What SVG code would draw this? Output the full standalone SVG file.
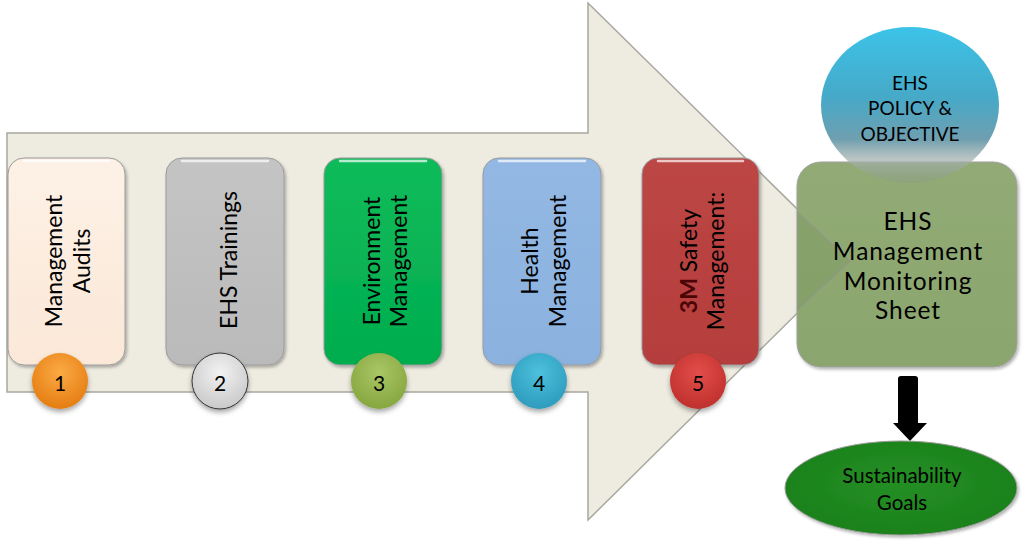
<svg xmlns="http://www.w3.org/2000/svg" width="1024" height="543" viewBox="0 0 1024 543">
<defs>
<style>
.t{font-family:Lato,"Open Sans","DejaVu Sans",sans-serif;fill:#000;}
.vt{font-size:23px;text-anchor:middle;dominant-baseline:central;}
.num{font-size:21px;text-anchor:middle;dominant-baseline:central;}
.mid{text-anchor:middle;dominant-baseline:central;}
.box{stroke:#9a9a9a;stroke-width:1;filter:url(#sh);}
.hl{fill:none;stroke:#fff;stroke-opacity:0.7;stroke-width:2.5;stroke-linecap:round;}
</style>
<filter id="sh" x="-20%" y="-20%" width="140%" height="140%">
<feDropShadow dx="1.5" dy="2" stdDeviation="1.5" flood-color="#000" flood-opacity="0.3"/>
</filter>
<filter id="csh" x="-30%" y="-30%" width="160%" height="170%">
<feDropShadow dx="0" dy="3" stdDeviation="2.5" flood-color="#000" flood-opacity="0.35"/>
</filter>
<linearGradient id="g1" x1="0" y1="0" x2="0" y2="1"><stop offset="0" stop-color="#fdf1e6"/><stop offset="1" stop-color="#fbe8d8"/></linearGradient>
<linearGradient id="g2" x1="0" y1="0" x2="0" y2="1"><stop offset="0" stop-color="#c4c4c4"/><stop offset="1" stop-color="#bababa"/></linearGradient>
<linearGradient id="g3" x1="0" y1="0" x2="0" y2="1"><stop offset="0" stop-color="#10bb5a"/><stop offset="1" stop-color="#00ad4e"/></linearGradient>
<linearGradient id="g4" x1="0" y1="0" x2="0" y2="1"><stop offset="0" stop-color="#93b8e4"/><stop offset="1" stop-color="#8bb1de"/></linearGradient>
<linearGradient id="g5" x1="0" y1="0" x2="0" y2="1"><stop offset="0" stop-color="#bc4644"/><stop offset="1" stop-color="#b53e3c"/></linearGradient>
<radialGradient id="c1" cx="0.5" cy="0.35" r="0.65"><stop offset="0" stop-color="#fbaa45"/><stop offset="1" stop-color="#e57d12"/></radialGradient>
<radialGradient id="c2" cx="0.5" cy="0.35" r="0.65"><stop offset="0" stop-color="#f2f2f2"/><stop offset="1" stop-color="#c9c9c9"/></radialGradient>
<radialGradient id="c3" cx="0.5" cy="0.35" r="0.65"><stop offset="0" stop-color="#a9c766"/><stop offset="1" stop-color="#86a63f"/></radialGradient>
<radialGradient id="c4" cx="0.5" cy="0.35" r="0.65"><stop offset="0" stop-color="#4cc1dd"/><stop offset="1" stop-color="#2e9bbd"/></radialGradient>
<radialGradient id="c5" cx="0.5" cy="0.35" r="0.65"><stop offset="0" stop-color="#e24e4a"/><stop offset="1" stop-color="#bf302d"/></radialGradient>
<linearGradient id="gb" x1="0" y1="0" x2="0" y2="1"><stop offset="0" stop-color="#3cc3e8"/><stop offset="0.45" stop-color="#46a9c8"/><stop offset="0.72" stop-color="#6f9fb0"/><stop offset="0.85" stop-color="#a5b2b0" stop-opacity="0.75"/><stop offset="1" stop-color="#8a9a80" stop-opacity="0.5"/></linearGradient>
<linearGradient id="gg" x1="0" y1="0" x2="0" y2="1"><stop offset="0" stop-color="#92ab76"/><stop offset="1" stop-color="#8ba56e"/></linearGradient>
<radialGradient id="ge" cx="0.5" cy="0.45" r="0.6"><stop offset="0" stop-color="#248f24"/><stop offset="1" stop-color="#1b801b"/></radialGradient>
</defs>

<g id="big-arrow">
<polygon points="7,133 588,133 588,3 850,261 588,520 588,392 7,392" fill="#eeece1" stroke="#a8a8a0" stroke-width="1.5"/>
</g>

<g id="node-1">
<rect class="box" x="8" y="158" width="117" height="207" rx="16" fill="url(#g1)"/>
<path class="hl" d="M24,161 H109"/>
<text class="t vt" transform="translate(53,261) rotate(-90)">Management</text>
<text class="t vt" transform="translate(81,261) rotate(-90)">Audits</text>
</g>
<g id="node-2">
<rect class="box" x="166" y="158" width="118" height="207" rx="16" fill="url(#g2)"/>
<path class="hl" d="M182,161 H268"/>
<text class="t vt" transform="translate(228,260) rotate(-90)">EHS Trainings</text>
</g>
<g id="node-3">
<rect class="box" x="324" y="158" width="118" height="207" rx="16" fill="url(#g3)"/>
<path class="hl" d="M340,161 H426" stroke-opacity="0.4"/>
<text class="t vt" transform="translate(371,261) rotate(-90)">Environment</text>
<text class="t vt" transform="translate(398,261) rotate(-90)">Management</text>
</g>
<g id="node-4">
<rect class="box" x="483" y="158" width="118" height="207" rx="16" fill="url(#g4)"/>
<path class="hl" d="M499,161 H585"/>
<text class="t vt" transform="translate(529,261) rotate(-90)">Health</text>
<text class="t vt" transform="translate(557,261) rotate(-90)">Management</text>
</g>
<g id="node-5">
<rect class="box" x="642" y="158" width="117" height="207" rx="16" fill="url(#g5)"/>
<path class="hl" d="M658,161 H743" stroke-opacity="0.35"/>
<text class="t vt" transform="translate(688,261) rotate(-90)"><tspan font-weight="bold" fill="#4a0606">3M</tspan> Safety</text>
<text class="t vt" transform="translate(715,261) rotate(-90)">Management:</text>
</g>

<g id="badge-1"><circle cx="60" cy="381" r="28" fill="url(#c1)" filter="url(#csh)"/><text class="t num" x="60" y="382">1</text></g>
<g id="badge-2"><circle cx="220" cy="381" r="28" fill="url(#c2)" stroke="#333" stroke-width="1" filter="url(#csh)"/><text class="t num" x="220" y="382">2</text></g>
<g id="badge-3"><circle cx="379" cy="381" r="28" fill="url(#c3)" filter="url(#csh)"/><text class="t num" x="379" y="382">3</text></g>
<g id="badge-4"><circle cx="539" cy="381" r="28" fill="url(#c4)" filter="url(#csh)"/><text class="t num" x="539" y="382">4</text></g>
<g id="badge-5"><circle cx="698" cy="381" r="28" fill="url(#c5)" filter="url(#csh)"/><text class="t num" x="698" y="382">5</text></g>

<g id="monitoring-sheet">
<rect x="797" y="162" width="220" height="205" rx="24" fill="url(#gg)" stroke="#a0a0a0" stroke-width="1" filter="url(#sh)"/>
<path d="M797,212 L850,261 L797,310" fill="#6f8a55" fill-opacity="0.25" stroke="#8f9a80" stroke-width="1.5"/>
<text class="t mid" font-size="24.5px" letter-spacing="0.9" x="908" y="220">EHS</text>
<text class="t mid" font-size="24.5px" letter-spacing="0.9" x="908" y="250">Management</text>
<text class="t mid" font-size="24.5px" letter-spacing="0.9" x="908" y="280">Monitoring</text>
<text class="t mid" font-size="24.5px" letter-spacing="0.9" x="908" y="309">Sheet</text>
</g>

<g id="policy">
<ellipse cx="910" cy="105" rx="89" ry="78" fill="url(#gb)"/>
<text class="t mid" font-size="19px" x="910" y="82" fill="#1a1a1a">EHS</text>
<text class="t mid" font-size="19px" x="910" y="107" fill="#1a1a1a">POLICY &amp;</text>
<text class="t mid" font-size="19px" x="910" y="133" fill="#1a1a1a">OBJECTIVE</text>
</g>

<g id="connectors">
<path d="M901,376 H915 Q918,376 918,379 V423 H927 L910,441 L893,423 H898 V379 Q898,376 901,376 Z" fill="#000"/>
</g>

<g id="goals">
<ellipse cx="901" cy="488" rx="116" ry="47" fill="url(#ge)" stroke="#9a9a9a" stroke-width="1" filter="url(#sh)"/>
<text class="t mid" font-size="20.5px" x="902" y="475">Sustainability</text>
<text class="t mid" font-size="20.5px" x="902" y="502">Goals</text>
</g>
</svg>
